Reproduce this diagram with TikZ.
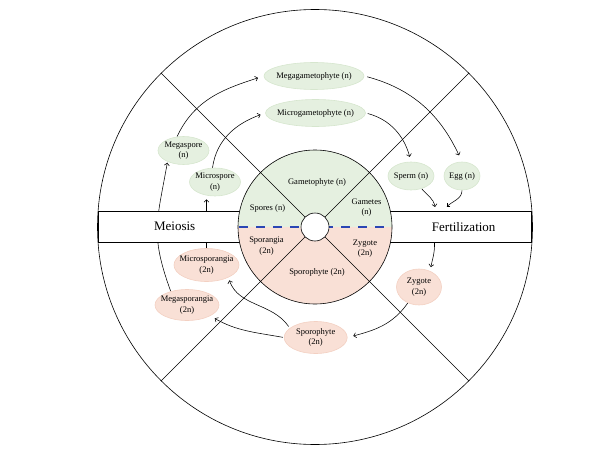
\documentclass[tikz,border=0pt]{standalone}
\usepackage{fontspec}
\setmainfont{Liberation Serif}
\usetikzlibrary{shapes.geometric, arrows.meta}
\pgfdeclarelayer{background}
\pgfsetlayers{background,main}
\definecolor{gfill}{RGB}{229,240,224}
\definecolor{gdraw}{RGB}{214,230,206}
\definecolor{pfill}{RGB}{249,224,214}
\definecolor{pdraw}{RGB}{243,208,194}
\definecolor{dblue}{RGB}{42,70,180}
\begin{document}
\begin{tikzpicture}[x=1pt,y=1pt,
  ell/.style={ellipse, inner xsep=-40pt, inner ysep=-12pt, align=center,
    font=\fontsize{8.5}{10.5}\selectfont, line width=0.6pt},
  gell/.style={ell, fill=gfill, draw=gdraw},
  pell/.style={ell, fill=pfill, draw=pdraw},
  lbl/.style={align=center, font=\fontsize{8.5}{10.5}\selectfont, inner sep=0pt},
  big/.style={font=\fontsize{13}{15}\selectfont, inner sep=0pt},
  arr/.style={-{Straight Barb[length=2.5pt,width=5pt]}, line width=0.55pt},
  thinline/.style={line width=0.6pt}
]
\useasboundingbox (0,0) rectangle (612,456);
\coordinate (C) at (315,229);

% outer circle
\draw[thinline] (C) circle[radius=217.5];

% ellipse nodes
\node[gell, minimum width=100pt, minimum height=27pt] (mgg) at (314,380) {Megagametophyte (n)};
\node[gell, minimum width=100pt, minimum height=27pt] (mcg) at (315.5,343) {Microgametophyte (n)};
\node[gell, minimum width=51pt, minimum height=28pt] (mgs) at (183.5,305.5) {Megaspore\\(n)};
\node[gell, minimum width=51pt, minimum height=28pt] (mcs) at (215,274) {Microspore\\(n)};
\node[gell, minimum width=46pt, minimum height=28pt] (sperm) at (411,280) {Sperm (n)};
\node[gell, minimum width=36pt, minimum height=28pt] (egg) at (462,280) {Egg (n)};
\node[pell, minimum width=65pt, minimum height=33pt] (msa) at (206.5,191) {Microsporangia\\(2n)};
\node[pell, minimum width=64pt, minimum height=31pt] (mga) at (187,151) {Megasporangia\\(2n)};
\node[pell, minimum width=63pt, minimum height=32pt] (spo) at (315.7,118.5) {Sporophyte\\(2n)};
\node[pell, minimum width=45pt, minimum height=36pt] (zyg) at (419,169) {Zygote\\(2n)};

% band
\node[draw, fill=white, line width=0.7pt, minimum width=433pt, minimum height=31pt, inner sep=0pt] (band) at (315,229.5) {};
\coordinate (fa) at (435,249);
\coordinate (fb) at (446.5,249);
\coordinate (fc) at (434.5,214);

% arrows
\begin{pgfonlayer}{background}
\draw[arr, shorten >=6pt] (mgs.115) to[out=65,in=198] (mgg.west);
\draw[arr, shorten >=5pt] (mcs.100) to[out=82,in=200] (mcg.west);
\draw[arr, shorten <=3pt, shorten >=7pt] (mgg.east) to[out=-15,in=115] (egg.north);
\draw[arr, shorten <=2pt, shorten >=5pt] (mcg.east) to[out=-15,in=105] (sperm.north);
\draw[arr] (sperm.-50) to[out=-50,in=100] (fa);
\draw[arr] (egg.south) to[out=-90,in=45] (fb);
\draw[arr, shorten >=4pt] (fc) to[out=-88,in=80] (zyg.55);
\draw[arr, shorten >=6pt] (zyg.-125) to[out=235,in=15] (spo.east);
\draw[arr, shorten <=1pt, shorten >=5pt] (spo.west) to[out=170,in=-30] (mga.-25);
\draw[arr, shorten <=2pt, shorten >=3pt] (spo.160) to[out=125,in=-70] (msa.-30);
\draw[arr, shorten >=1pt] (mga.140) to[out=110,in=-100,looseness=1.2] (mgs.-145);
\draw[arr, shorten >=3pt] (msa.north) -- (msa.north |- mcs.south);
\end{pgfonlayer}

% pie
\fill[gfill] (C) ++(77,0) arc[start angle=0, end angle=180, radius=77] -- cycle;
\fill[pfill] (C) ++(-77,0) arc[start angle=180, end angle=360, radius=77] -- cycle;
\foreach \a in {45,135,225,315}
  \draw[thinline] (C) ++(\a:14) -- +(\a:203.5);
\draw[thinline] (C) circle[radius=77];
\draw[dblue, line width=1.1pt, dash pattern=on 9pt off 8pt] (C) ++(-76,0) -- ++(152,0);
\draw[thinline, fill=white] (C) circle[radius=14];

% texts
\node[big] (meiosis) at (174.7,230) {Meiosis};
\node[big] (fert) at (463.7,229.3) {Fertilization};
\node[lbl] (tgam) at (317,274) {Gametophyte (n)};
\node[lbl] (tspo) at (267.5,248) {Spores (n)};
\node[lbl] (tgmt) at (366.5,248.5) {Gametes\\(n)};
\node[lbl] (tspa) at (266.5,210) {Sporangia\\(2n)};
\node[lbl] (tzyg) at (365,207.5) {Zygote\\(2n)};
\node[lbl] (tsph) at (317,184) {Sporophyte (2n)};
\end{tikzpicture}
\end{document}
